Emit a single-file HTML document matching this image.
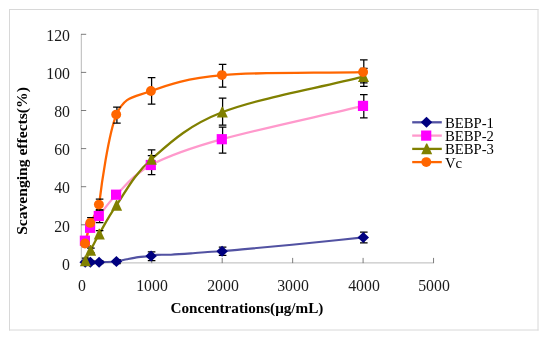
<!DOCTYPE html>
<html><head><meta charset="utf-8"><title>chart</title>
<style>
html,body{margin:0;padding:0;background:#fff;}
body{width:550px;height:343px;position:relative;overflow:hidden;font-family:"Liberation Serif",serif;color:#1a1a1a;}
.yl,.xl,.lg,.xt{will-change:transform;}
.yl{position:absolute;left:20px;width:50px;text-align:right;font-size:15.8px;line-height:17px;height:17px;}
.xl{position:absolute;top:276.8px;width:60px;text-align:center;font-size:15.8px;line-height:17px;height:17px;}
.lg{position:absolute;left:445.3px;font-size:14.7px;line-height:17px;height:17px;color:#000;white-space:nowrap;}
.xt{position:absolute;left:147px;width:200px;top:299.4px;text-align:center;font-weight:bold;font-size:15.2px;line-height:18px;color:#000;white-space:nowrap;}
.yt{position:absolute;left:22.3px;top:161.2px;width:0;height:0;}
.yt span{position:absolute;left:-100px;width:200px;top:-9px;height:18px;line-height:18px;text-align:center;font-weight:bold;font-size:15.6px;color:#000;white-space:nowrap;transform:rotate(-90deg);transform-origin:50% 50%;display:block;}
</style></head><body>
<svg width="550" height="343" viewBox="0 0 550 343" style="position:absolute;left:0;top:0">
<path d="M9.5 9 V330.5 M9 9.5 H538.5 M538 9 V330.5 M9 330 H538.5" fill="none" stroke="#d8d8d8" stroke-width="1"/>
<path d="M81.30 34.10 V262.90 M81.30 262.90 H433.75" stroke="#b8b8b8" stroke-width="1" fill="none"/>
<path d="M81.00 224.80 h5.2 M81.00 186.70 h5.2 M81.00 148.60 h5.2 M81.00 110.50 h5.2 M81.00 72.40 h5.2 M81.00 34.30 h5.2 M151.75 263.10 v-5.2 M222.20 263.10 v-5.2 M292.65 263.10 v-5.2 M363.10 263.10 v-5.2 M433.55 263.10 v-5.2" stroke="#6e6e6e" stroke-width="0.9" fill="none"/>
<path d="M85.20 262.30 C89.83 262.27 93.90 262.33 99.10 262.20 C104.30 262.07 111.75 262.00 116.40 261.50 C121.05 261.00 123.35 259.93 127.00 259.20 C130.65 258.47 135.13 257.55 138.30 257.10 C141.47 256.65 143.87 256.67 146.00 256.50 C148.13 256.33 149.27 256.37 151.10 256.10 C152.76 255.86 154.00 255.11 157.00 254.90 C160.32 254.67 165.33 254.95 171.00 254.70 C176.67 254.45 184.25 253.90 191.00 253.40 C197.75 252.90 206.32 252.05 211.50 251.70 C216.68 251.35 217.02 251.68 222.10 251.30 C226.44 250.97 232.05 250.34 242.00 249.40 C253.65 248.30 271.78 246.70 292.00 244.70 C312.22 242.70 339.53 239.83 363.30 237.40" stroke="#5252A2" stroke-width="2.1" fill="none" stroke-linecap="round" stroke-linejoin="round"/>
<path d="M85.20 240.70 C86.93 236.40 88.08 231.92 90.40 227.80 C92.72 223.68 94.77 221.52 99.10 216.00 C103.43 210.48 107.73 203.20 116.40 194.70 C125.07 186.20 133.48 174.25 151.10 165.00 C168.72 155.75 186.73 149.05 222.10 139.20 C257.47 129.35 316.23 117.00 363.30 105.90" stroke="#FF99CC" stroke-width="2.3" fill="none" stroke-linecap="round" stroke-linejoin="round"/>
<path d="M85.20 261.00 C86.93 257.50 88.08 254.95 90.40 250.50 C92.72 246.05 94.77 241.82 99.10 234.30 C103.43 226.78 107.73 217.87 116.40 205.40 C125.07 192.93 133.48 175.02 151.10 159.50 C168.72 143.98 186.73 126.10 222.10 112.30 C257.47 98.50 316.23 88.57 363.30 76.70" stroke="#808000" stroke-width="2.3" fill="none" stroke-linecap="round" stroke-linejoin="round"/>
<path d="M85.20 243.50 C86.93 236.63 88.08 229.38 90.40 222.90 C91.66 219.36 96.73 214.45 99.10 204.60 C101.30 186.00 108.50 134.00 116.40 114.60 C125.07 95.67 133.48 97.58 151.10 91.00 C168.72 84.42 186.73 78.25 222.10 75.10 C257.47 71.95 316.23 73.10 363.30 72.10" stroke="#FF6600" stroke-width="2.3" fill="none" stroke-linecap="round" stroke-linejoin="round"/>
<g stroke="#000" stroke-width="1.25" fill="none"><path d="M85.70 260.80 V263.80 M81.90 260.80 H89.50 M81.90 263.80 H89.50"/><path d="M90.90 260.80 V263.80 M87.10 260.80 H94.70 M87.10 263.80 H94.70"/><path d="M99.60 260.70 V263.70 M95.80 260.70 H103.40 M95.80 263.70 H103.40"/><path d="M116.90 259.50 V263.50 M113.10 259.50 H120.70 M113.10 263.50 H120.70"/><path d="M151.60 251.80 V260.60 M147.80 251.80 H155.40 M147.80 260.60 H155.40"/><path d="M222.60 247.20 V255.40 M218.80 247.20 H226.40 M218.80 255.40 H226.40"/><path d="M363.80 232.10 V242.90 M360.00 232.10 H367.60 M360.00 242.90 H367.60"/></g>
<g stroke="#000" stroke-width="1.25" fill="none"><path d="M85.70 237.70 V243.70 M81.90 237.70 H89.50 M81.90 243.70 H89.50"/><path d="M90.90 224.80 V230.80 M87.10 224.80 H94.70 M87.10 230.80 H94.70"/><path d="M99.60 209.80 V222.60 M95.80 209.80 H103.40 M95.80 222.60 H103.40"/><path d="M116.90 191.70 V197.70 M113.10 191.70 H120.70 M113.10 197.70 H120.70"/><path d="M151.60 155.50 V174.50 M147.80 155.50 H155.40 M147.80 174.50 H155.40"/><path d="M222.60 127.00 V153.20 M218.80 127.00 H226.40 M218.80 153.20 H226.40"/><path d="M363.80 94.50 V117.90 M360.00 94.50 H367.60 M360.00 117.90 H367.60"/></g>
<g stroke="#000" stroke-width="1.25" fill="none"><path d="M85.70 258.00 V262.50 M81.90 258.00 H89.50 M81.90 262.50 H89.50"/><path d="M90.90 248.20 V252.80 M87.10 248.20 H94.70 M87.10 252.80 H94.70"/><path d="M99.60 230.50 V238.10 M95.80 230.50 H103.40 M95.80 238.10 H103.40"/><path d="M151.60 149.90 V169.10 M147.80 149.90 H155.40 M147.80 169.10 H155.40"/><path d="M222.60 98.20 V125.00 M218.80 98.20 H226.40 M218.80 125.00 H226.40"/><path d="M363.80 68.30 V86.30 M360.00 68.30 H367.60 M360.00 86.30 H367.60"/></g>
<g stroke="#000" stroke-width="1.25" fill="none"><path d="M85.70 240.50 V246.50 M81.90 240.50 H89.50 M81.90 246.50 H89.50"/><path d="M90.90 217.50 V225.90 M87.10 217.50 H94.70 M87.10 225.90 H94.70"/><path d="M99.60 199.00 V210.20 M95.80 199.00 H103.40 M95.80 210.20 H103.40"/><path d="M116.90 107.10 V123.00 M113.10 107.10 H120.70 M113.10 123.00 H120.70"/><path d="M151.60 77.60 V104.00 M147.80 77.60 H155.40 M147.80 104.00 H155.40"/><path d="M222.60 64.40 V87.20 M218.80 64.40 H226.40 M218.80 87.20 H226.40"/><path d="M363.80 59.80 V82.80 M360.00 59.80 H367.60 M360.00 82.80 H367.60"/></g>
<path d="M85.20 256.80 L90.95 262.30 L85.20 267.80 L79.45 262.30Z" fill="#000080"/>
<path d="M90.40 256.80 L96.15 262.30 L90.40 267.80 L84.65 262.30Z" fill="#000080"/>
<path d="M99.10 256.70 L104.85 262.20 L99.10 267.70 L93.35 262.20Z" fill="#000080"/>
<path d="M116.40 256.00 L122.15 261.50 L116.40 267.00 L110.65 261.50Z" fill="#000080"/>
<path d="M151.10 250.60 L156.85 256.10 L151.10 261.60 L145.35 256.10Z" fill="#000080"/>
<path d="M222.10 245.80 L227.85 251.30 L222.10 256.80 L216.35 251.30Z" fill="#000080"/>
<path d="M363.30 231.90 L369.05 237.40 L363.30 242.90 L357.55 237.40Z" fill="#000080"/>
<rect x="79.80" y="235.60" width="10.20" height="10.20" fill="#FF00FF"/>
<rect x="85.00" y="222.70" width="10.20" height="10.20" fill="#FF00FF"/>
<rect x="93.70" y="210.90" width="10.20" height="10.20" fill="#FF00FF"/>
<rect x="111.00" y="189.60" width="10.20" height="10.20" fill="#FF00FF"/>
<rect x="145.70" y="159.90" width="10.20" height="10.20" fill="#FF00FF"/>
<rect x="216.70" y="134.10" width="10.20" height="10.20" fill="#FF00FF"/>
<rect x="357.90" y="100.80" width="10.20" height="10.20" fill="#FF00FF"/>
<path d="M84.90 255.50 L85.90 255.50 L90.90 266.30 L79.90 266.30 L84.90 255.50Z" fill="#808000"/>
<path d="M90.10 245.00 L91.10 245.00 L96.10 255.80 L85.10 255.80 L90.10 245.00Z" fill="#808000"/>
<path d="M98.80 228.80 L99.80 228.80 L104.80 239.60 L93.80 239.60 L98.80 228.80Z" fill="#808000"/>
<path d="M116.10 199.90 L117.10 199.90 L122.10 210.70 L111.10 210.70 L116.10 199.90Z" fill="#808000"/>
<path d="M150.80 154.00 L151.80 154.00 L156.80 164.80 L145.80 164.80 L150.80 154.00Z" fill="#808000"/>
<path d="M221.80 106.80 L222.80 106.80 L227.80 117.60 L216.80 117.60 L221.80 106.80Z" fill="#808000"/>
<path d="M363.00 71.20 L364.00 71.20 L369.00 82.00 L358.00 82.00 L363.00 71.20Z" fill="#808000"/>
<circle cx="85.00" cy="243.50" r="4.95" fill="#FF6600"/>
<circle cx="90.20" cy="222.90" r="4.95" fill="#FF6600"/>
<circle cx="98.90" cy="204.60" r="4.95" fill="#FF6600"/>
<circle cx="116.20" cy="114.60" r="4.95" fill="#FF6600"/>
<circle cx="150.90" cy="91.00" r="4.95" fill="#FF6600"/>
<circle cx="221.90" cy="75.10" r="4.95" fill="#FF6600"/>
<circle cx="363.10" cy="72.10" r="4.95" fill="#FF6600"/>
<path d="M412.20 122.30 H441.80" stroke="#5252A2" stroke-width="2.3"/>
<path d="M426.50 116.80 L432.25 122.30 L426.50 127.80 L420.75 122.30Z" fill="#000080"/>
<path d="M412.20 135.60 H441.80" stroke="#FF99CC" stroke-width="2.3"/>
<rect x="421.10" y="130.50" width="10.20" height="10.20" fill="#FF00FF"/>
<path d="M412.20 148.90 H441.80" stroke="#808000" stroke-width="2.3"/>
<path d="M426.20 143.40 L427.20 143.40 L432.20 154.20 L421.20 154.20 L426.20 143.40Z" fill="#808000"/>
<path d="M412.20 162.10 H441.80" stroke="#FF6600" stroke-width="2.3"/>
<circle cx="426.30" cy="162.10" r="4.95" fill="#FF6600"/>
</svg>
<div class="yl" style="top:255.5px">0</div>
<div class="yl" style="top:217.5px">20</div>
<div class="yl" style="top:179.4px">40</div>
<div class="yl" style="top:141.4px">60</div>
<div class="yl" style="top:103.3px">80</div>
<div class="yl" style="top:65.3px">100</div>
<div class="yl" style="top:27.2px">120</div>
<div class="xl" style="left:51.9px">0</div>
<div class="xl" style="left:122.3px">1000</div>
<div class="xl" style="left:192.8px">2000</div>
<div class="xl" style="left:263.2px">3000</div>
<div class="xl" style="left:333.7px">4000</div>
<div class="xl" style="left:404.2px">5000</div>
<div class="lg" style="top:114.7px">BEBP-1</div>
<div class="lg" style="top:128.0px">BEBP-2</div>
<div class="lg" style="top:141.3px">BEBP-3</div>
<div class="lg" style="top:154.5px">Vc</div>
<div class="xt">Concentrations(&#956;g/mL)</div>
<div class="yt"><span>Scavenging effects(%)</span></div>
</body></html>
